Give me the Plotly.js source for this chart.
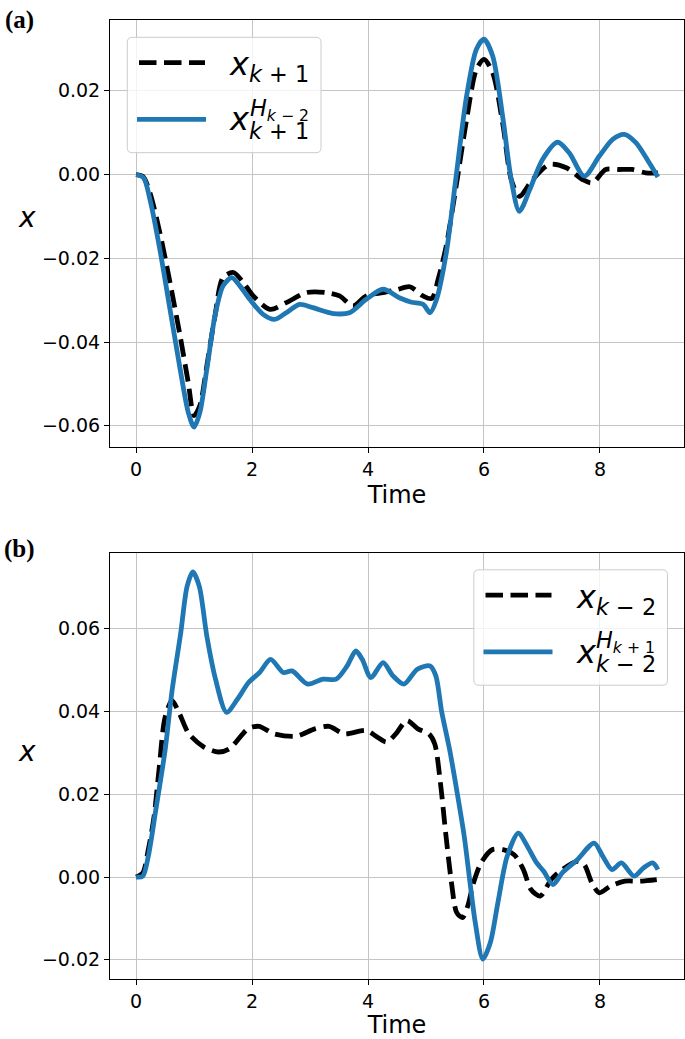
<!DOCTYPE html>
<html><head><meta charset="utf-8">
<script src="https://cdn.plot.ly/plotly-3.0.1.min.js"></script>
<style>html,body{margin:0;padding:0;background:#fff;}#chart{width:685px;height:1039px;}</style>
</head><body><div id="chart"></div>
<script>
// ---------- Panel (a) data ----------
const tA_ref = [0, 0.12, 0.24, 0.41, 0.585, 0.76, 0.9, 1.0, 1.1, 1.22, 1.36, 1.5, 1.68, 1.85, 2.02, 2.31, 2.59, 2.94, 3.28, 3.51, 3.74, 3.97, 4.26, 4.5, 4.72, 4.95, 5.1, 5.21, 5.35, 5.52, 5.7, 5.87, 6.0, 6.15, 6.33, 6.47, 6.61, 6.84, 7.13, 7.42, 7.7, 7.87, 8.1, 8.33, 8.56, 8.79, 9.0];
const xA_ref = [0, -0.0005, -0.0044, -0.0139, -0.0258, -0.0386, -0.0497, -0.0576, -0.0552, -0.0457, -0.0338, -0.0246, -0.0234, -0.0258, -0.029, -0.0322, -0.0306, -0.0282, -0.0282, -0.029, -0.0314, -0.029, -0.0282, -0.0275, -0.0268, -0.029, -0.0296, -0.025, -0.017, -0.0028, 0.0131, 0.0251, 0.0275, 0.0243, 0.0116, -0.0012, -0.0052, -0.0012, 0.0024, 0.0016, -0.0012, -0.002, 0.0012, 0.0012, 0.0012, 0.0004, 0.0004];
const tA_h = [0, 0.13, 0.24, 0.41, 0.585, 0.76, 0.9, 1.0, 1.1, 1.22, 1.36, 1.5, 1.65, 1.79, 1.96, 2.19, 2.39, 2.59, 2.82, 3.05, 3.4, 3.68, 3.97, 4.26, 4.55, 4.75, 4.95, 5.07, 5.18, 5.35, 5.52, 5.7, 5.87, 6.0, 6.15, 6.33, 6.47, 6.61, 6.79, 7.01, 7.27, 7.47, 7.73, 7.99, 8.22, 8.42, 8.62, 8.85, 9.0];
const xA_h = [0, -0.0008, -0.006, -0.0179, -0.0322, -0.0465, -0.0568, -0.0603, -0.0568, -0.0465, -0.0338, -0.0266, -0.0246, -0.0266, -0.0298, -0.0334, -0.0346, -0.033, -0.031, -0.0318, -0.0332, -0.033, -0.0298, -0.0274, -0.0295, -0.0305, -0.031, -0.033, -0.0299, -0.0187, -0.0004, 0.0187, 0.0299, 0.0323, 0.0283, 0.0131, -0.0012, -0.0088, -0.0036, 0.0036, 0.0077, 0.0052, -0.0004, 0.0044, 0.0084, 0.0096, 0.0076, 0.0028, -0.0006];

// ---------- Panel (b) data ----------
const tB_ref = [0, 0.115, 0.21, 0.31, 0.4, 0.5, 0.62, 0.75, 0.91, 1.17, 1.42, 1.61, 1.93, 2.12, 2.38, 2.76, 3.08, 3.33, 3.59, 3.97, 4.16, 4.32, 4.48, 4.67, 4.86, 5.05, 5.15, 5.25, 5.34, 5.44, 5.53, 5.63, 5.72, 5.82, 5.95, 6.14, 6.33, 6.52, 6.68, 6.81, 6.97, 7.16, 7.35, 7.61, 7.73, 7.86, 7.99, 8.18, 8.43, 8.69, 8.98];
const xB_ref = [0, 0.001, 0.0066, 0.0146, 0.0266, 0.0386, 0.0426, 0.0394, 0.0346, 0.0314, 0.0302, 0.031, 0.0358, 0.0364, 0.0346, 0.034, 0.0358, 0.0364, 0.0346, 0.0354, 0.0338, 0.0326, 0.0346, 0.0378, 0.0358, 0.0346, 0.0322, 0.0226, 0.0106, -0.0014, -0.0086, -0.0098, -0.007, -0.0014, 0.0034, 0.0066, 0.0066, 0.0054, 0.0018, -0.003, -0.0046, -0.0006, 0.0018, 0.0038, 0.003, -0.0014, -0.0038, -0.0022, -0.001, -0.001, -0.0006];
const tB_h = [0, 0.115, 0.21, 0.34, 0.5, 0.62, 0.77, 0.88, 0.98, 1.09, 1.22, 1.37, 1.56, 1.75, 1.94, 2.13, 2.32, 2.54, 2.69, 2.96, 3.22, 3.45, 3.64, 3.79, 3.9, 4.05, 4.26, 4.43, 4.62, 4.85, 5.07, 5.17, 5.27, 5.41, 5.53, 5.66, 5.76, 5.85, 5.98, 6.11, 6.24, 6.4, 6.59, 6.75, 6.91, 7.03, 7.19, 7.35, 7.61, 7.9, 8.05, 8.21, 8.37, 8.59, 8.75, 8.91, 9.0];
const xB_h = [0, 0.0002, 0.005, 0.0162, 0.0306, 0.045, 0.059, 0.0702, 0.0737, 0.0702, 0.0582, 0.0478, 0.0398, 0.043, 0.047, 0.0494, 0.0526, 0.0494, 0.0498, 0.0466, 0.0478, 0.0478, 0.051, 0.0546, 0.0526, 0.0482, 0.0518, 0.0486, 0.0466, 0.0502, 0.051, 0.0486, 0.040, 0.0306, 0.021, 0.0098, -0.0014, -0.011, -0.0198, -0.0158, -0.0062, 0.005, 0.0106, 0.0074, 0.0034, 0.0014, -0.0018, 0.001, 0.0042, 0.0082, 0.005, 0.0018, 0.0034, 0.0002, 0.0022, 0.0034, 0.0018];

// ---------- ticks / labels ----------
const xTickVals = [0, 2, 4, 6, 8];
const xTickText = ['0', '2', '4', '6', '8'];
const yTickValsA = [-0.06, -0.04, -0.02, 0.00, 0.02];
const yTickTextA = ['\u22120.06', '\u22120.04', '\u22120.02', '0.00', '0.02'];
const yTickValsB = [-0.02, 0.00, 0.02, 0.04, 0.06];
const yTickTextB = ['\u22120.02', '0.00', '0.02', '0.04', '0.06'];

const W = 685, H = 1039;
const PX = x => x / W, PY = y => 1 - y / H;
const BLUE = '#1f77b4';
const LW = 4.8;
const DASH = '17.5px,7.5px';
const FONT = 'DejaVu Sans';

const traces = [
  {x: tA_ref, y: xA_ref, xaxis: 'x', yaxis: 'y', mode: 'lines', name: 'x_{k+1}',
   line: {color: 'black', width: LW, dash: DASH, shape: 'spline', smoothing: 0.8}},
  {x: tA_h, y: xA_h, xaxis: 'x', yaxis: 'y', mode: 'lines', name: 'x_{k+1}^{H_{k-2}}',
   line: {color: BLUE, width: LW, shape: 'spline', smoothing: 0.8}},
  {x: tB_ref, y: xB_ref, xaxis: 'x2', yaxis: 'y2', mode: 'lines', name: 'x_{k-2}',
   line: {color: 'black', width: LW, dash: DASH, shape: 'spline', smoothing: 0.8}},
  {x: tB_h, y: xB_h, xaxis: 'x2', yaxis: 'y2', mode: 'lines', name: 'x_{k-2}^{H_{k+1}}',
   line: {color: BLUE, width: LW, shape: 'spline', smoothing: 0.8}}
];

const tickFont = {family: FONT, size: 19, color: 'black'};
function xAxis(anchor) {
  return {domain: [PX(110), PX(684)], anchor: anchor, range: [-0.45, 9.45],
    tickvals: xTickVals, ticktext: xTickText, tickfont: tickFont,
    showgrid: true, gridcolor: '#c4c4c4', gridwidth: 1, zeroline: false,
    showline: true, mirror: true, linecolor: 'black', linewidth: 1,
    ticks: 'outside', ticklen: 5, tickwidth: 1, tickcolor: 'black',
    title: {text: 'Time', font: {family: FONT, size: 24, color: 'black'}, standoff: 7}};
}
function yAxis(anchor, dom, rng, tv, tt) {
  return {domain: dom, anchor: anchor, range: rng, tickvals: tv, ticktext: tt, tickfont: tickFont,
    showgrid: true, gridcolor: '#c4c4c4', gridwidth: 1, zeroline: false,
    showline: true, mirror: true, linecolor: 'black', linewidth: 1,
    ticks: 'outside', ticklen: 5, tickwidth: 1, tickcolor: 'black'};
}

function roundRect(x0, y0, x1, y1, r) {
  const p = (x, y) => PX(x) + ',' + PY(y);
  return 'M' + p(x0 + r, y0) + ' L' + p(x1 - r, y0) + ' Q' + p(x1, y0) + ' ' + p(x1, y0 + r) +
    ' L' + p(x1, y1 - r) + ' Q' + p(x1, y1) + ' ' + p(x1 - r, y1) +
    ' L' + p(x0 + r, y1) + ' Q' + p(x0, y1) + ' ' + p(x0, y1 - r) +
    ' L' + p(x0, y0 + r) + ' Q' + p(x0, y0) + ' ' + p(x0 + r, y0) + ' Z';
}

const shapes = [];
const annotations = [];
function legend(dx, dy, sub1, sub2, supSub) {
  shapes.push({type: 'path', xref: 'paper', yref: 'paper', layer: 'above',
    path: roundRect(127.3 + dx, 37.3 + dy, 321 + dx, 152.7 + dy, 5),
    fillcolor: 'rgba(255,255,255,0.8)', line: {color: '#cccccc', width: 1}});
  shapes.push({type: 'line', xref: 'paper', yref: 'paper', layer: 'above',
    x0: PX(139 + dx), x1: PX(205 + dx), y0: PY(62.7 + dy), y1: PY(62.7 + dy),
    line: {color: 'black', width: LW, dash: DASH}});
  shapes.push({type: 'line', xref: 'paper', yref: 'paper', layer: 'above',
    x0: PX(137 + dx), x1: PX(206 + dx), y0: PY(119.3 + dy), y1: PY(119.3 + dy),
    line: {color: BLUE, width: LW}});
  const base = {xref: 'paper', yref: 'paper', showarrow: false, xanchor: 'left', yanchor: 'middle', borderpad: 0};
  annotations.push(Object.assign({}, base, {x: PX(228 + dx), y: PY(66 + dy),
    text: '<i>x</i><sub><i>k</i> ' + sub1 + '</sub>', font: {family: FONT, size: 32, color: 'black'}}));
  annotations.push(Object.assign({}, base, {x: PX(228 + dx), y: PY(119 + dy),
    text: '<i>x</i>', font: {family: FONT, size: 32, color: 'black'}}));
  annotations.push(Object.assign({}, base, {x: PX(248 + dx), y: PY(131 + dy),
    text: '<i>k</i> ' + sub2, font: {family: FONT, size: 22.4, color: 'black'}}));
  annotations.push(Object.assign({}, base, {x: PX(248.5 + dx), y: PY(109.5 + dy),
    text: '<i>H</i><sub><i>k</i> ' + supSub + '</sub>', font: {family: FONT, size: 22.4, color: 'black'}}));
}
legend(0, 0, '+ 1', '+ 1', '\u2212 2');
legend(346.5, 532.5, '\u2212 2', '\u2212 2', '+ 1');

// panel letters and y labels
annotations.push({xref: 'paper', yref: 'paper', showarrow: false, xanchor: 'left', yanchor: 'middle',
  x: PX(3), y: PY(20), text: '<b>(a)</b>', font: {family: 'Liberation Serif', size: 25, color: 'black'}});
annotations.push({xref: 'paper', yref: 'paper', showarrow: false, xanchor: 'left', yanchor: 'middle',
  x: PX(2), y: PY(549), text: '<b>(b)</b>', font: {family: 'Liberation Serif', size: 25, color: 'black'}});
annotations.push({xref: 'paper', yref: 'paper', showarrow: false, xanchor: 'center', yanchor: 'middle',
  x: PX(26.5), y: PY(217), text: '<i>x</i>', font: {family: FONT, size: 28, color: 'black'}});
annotations.push({xref: 'paper', yref: 'paper', showarrow: false, xanchor: 'center', yanchor: 'middle',
  x: PX(26.5), y: PY(751), text: '<i>x</i>', font: {family: FONT, size: 28, color: 'black'}});

const layout = {
  width: W, height: H, margin: {l: 0, r: 0, t: 0, b: 0},
  paper_bgcolor: 'white', plot_bgcolor: 'white', showlegend: false,
  xaxis: xAxis('y'),
  yaxis: yAxis('x', [PY(446.7), PY(20)], [-0.065, 0.0369], yTickValsA, yTickTextA),
  xaxis2: xAxis('y2'),
  yaxis2: yAxis('x2', [PY(979.3), PY(553.3)], [-0.0247, 0.0782], yTickValsB, yTickTextB),
  shapes: shapes, annotations: annotations
};
Plotly.newPlot('chart', traces, layout, {displayModeBar: false, staticPlot: true});
</script></body></html>
